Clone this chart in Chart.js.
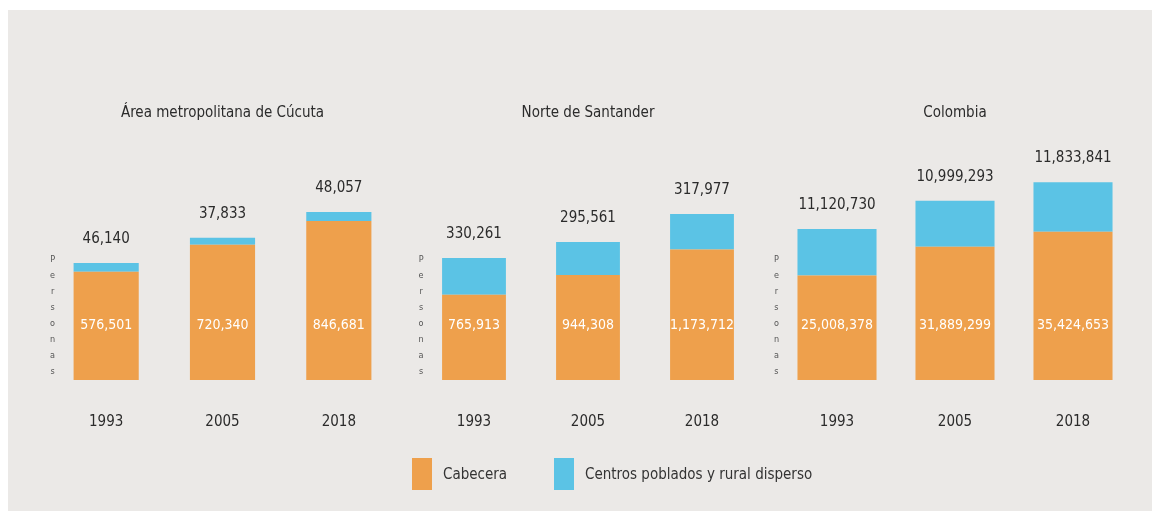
<!DOCTYPE html>
<html>
<head>
<meta charset="utf-8">
<script src="https://cdn.jsdelivr.net/npm/chart.js@4/dist/chart.umd.min.js"></script>
<style>
  html, body { margin: 0; padding: 0; background: #ffffff; }
  #page { position: relative; width: 1160px; height: 525px; overflow: hidden; }
  #panel { position: absolute; left: 8px; top: 10px; right: 8px; bottom: 14px; background: #ebe9e7; }
  canvas { position: absolute; }
  #legend { position: absolute; top: 458px; left: 412px; height: 32px;
            font-family: "Liberation Sans Narrow", "DejaVu Sans Condensed", sans-serif;
            font-size: 15px; color: #333; }
  .item { position: absolute; top: 0; white-space: nowrap; }
  .swatch { position: absolute; top: 0; width: 20px; height: 32px; }
  .label { position: absolute; top: 7px; }
</style>
</head>
<body>
<div id="page">
  <div id="panel"></div>
  <canvas id="c0" style="left:18px; top:90px;" width="379" height="383"></canvas>
  <canvas id="c1" style="left:387px; top:90px;" width="372" height="383"></canvas>
  <canvas id="c2" style="left:748px; top:90px;" width="384" height="383"></canvas>
  <div id="legend"></div>
</div>
<script>
const years = ['1993', '2005', '2018'];
const titles = ['Área metropolitana de Cúcuta', 'Norte de Santander', 'Colombia'];
const seriesNames = ['Cabecera', 'Centros poblados y rural disperso'];

// personas en cabecera (numero blanco dentro de la barra)
const cabeceraAM = [576501, 720340, 846681];
const cabeceraNS = [765913, 944308, 1173712];
const cabeceraCO = [25008378, 31889299, 35424653];

// personas en centros poblados y rural disperso (numero sobre la barra)
const ruralAM = [46140, 37833, 48057];
const ruralNS = [330261, 295561, 317977];
const ruralCO = [11120730, 10999293, 11833841];

const yMax = [1225000, 2067000, 55000000];
const barPct = [0.56, 0.56, 0.67];

const ORANGE = '#eea04c';
const BLUE = '#5bc3e5';
const FONT = '"Liberation Sans Narrow", "DejaVu Sans Condensed", sans-serif';
const fmt = v => v.toLocaleString('en-US');

const barLabels = {
  id: 'barLabels',
  afterDatasetsDraw(chart) {
    const ctx = chart.ctx;
    const y0 = chart.scales.y.bottom;
    const low = chart.getDatasetMeta(0).data;
    const top = chart.getDatasetMeta(1).data;
    ctx.save();
    ctx.textAlign = 'center';
    ctx.textBaseline = 'middle';
    low.forEach((bar, i) => {
      ctx.fillStyle = '#ffffff';
      ctx.font = '14px ' + FONT;
      ctx.fillText(fmt(chart.data.datasets[0].data[i]), bar.x, y0 - 55);
      ctx.fillStyle = '#2b2b2b';
      ctx.font = '15px ' + FONT;
      ctx.fillText(fmt(chart.data.datasets[1].data[i]), top[i].x, top[i].y - 24);
    });
    // "Personas" en letras apiladas junto a la primera barra
    ctx.fillStyle = '#555';
    ctx.font = '9px ' + FONT;
    const word = 'Personas';
    const x = low[0].x - low[0].width / 2 - 21;
    for (let k = 0; k < word.length; k++) {
      ctx.fillText(word[k], x, y0 - 120 + k * 16);
    }
    ctx.restore();
  }
};

function makeChart(id, idx, cab, rur) {
  new Chart(document.getElementById(id), {
    type: 'bar',
    data: {
      labels: years,
      datasets: [
        { label: seriesNames[0], data: cab, backgroundColor: ORANGE,
          barPercentage: barPct[idx], categoryPercentage: 1 },
        { label: seriesNames[1], data: rur, backgroundColor: BLUE,
          barPercentage: barPct[idx], categoryPercentage: 1 }
      ]
    },
    options: {
      responsive: false,
      animation: false,
      layout: { padding: { left: 30, right: 0, top: 0, bottom: 9 } },
      plugins: {
        legend: { display: false },
        tooltip: { enabled: false },
        title: {
          display: true,
          text: titles[idx],
          color: '#2b2b2b',
          font: { family: FONT, size: 15, weight: 'normal' },
          padding: { top: 14, bottom: 28 }
        }
      },
      scales: {
        x: {
          stacked: true,
          grid: { display: false, drawTicks: false },
          border: { display: false },
          ticks: { color: '#2b2b2b', padding: 33, font: { family: FONT, size: 15 } }
        },
        y: {
          stacked: true,
          display: false,
          min: 0,
          max: yMax[idx]
        }
      }
    },
    plugins: [barLabels]
  });
}

makeChart('c0', 0, cabeceraAM, ruralAM);
makeChart('c1', 1, cabeceraNS, ruralNS);
makeChart('c2', 2, cabeceraCO, ruralCO);

// leyenda
const legend = document.getElementById('legend');
[[0, ORANGE, seriesNames[0]], [142, BLUE, seriesNames[1]]].forEach(([off, col, txt]) => {
  const item = document.createElement('div');
  item.className = 'item';
  item.style.left = off + 'px';
  item.innerHTML = '<div class="swatch" style="background:' + col + '"></div>' +
                   '<div class="label" style="left:31px">' + txt + '</div>';
  legend.appendChild(item);
});
</script>
</body>
</html>
